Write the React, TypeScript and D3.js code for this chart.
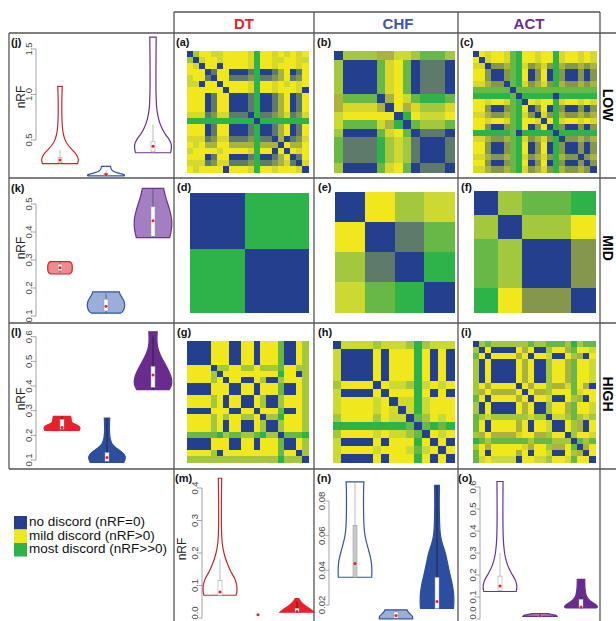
import React from 'react';
import * as d3 from 'd3';

// ---------- DATA ----------
const LEVEL_COLORS = ['#253f8f', '#5d7a6a', '#84974c', '#aab340', '#d8d82c', '#f0e81c', '#cbd932', '#a3c83d', '#68b847', '#2db34a'];
const LEGEND_LABELS = ['no discord (nRF=0)', 'mild discord (nRF>0)', 'most discord (nRF>>0)'];
const LEGEND_LEVELS = [0, 5, 9];
const METHODS = ['DT', 'CHF', 'ACT'];
const LEVELS = ['LOW', 'MID', 'HIGH'];

const MAT_A = [
  '07556 65555 49554 56545', '70655 65555 49554 65546', '56055 05555 49554 55545', '55501 55000 19001 35015',
  '65510 55111 29112 35125', '66055 05555 49554 56545', '55555 50555 49554 55540', '55501 55000 19001 35015',
  '55501 55000 19001 35015', '55501 55000 19001 35015', '44412 44111 09112 34124', '99999 99999 90999 99999',
  '55501 55000 19001 35015', '55501 55000 19001 35015', '44412 44111 29110 30124', '56533 55333 39333 05335',
  '65555 65555 49550 50545', '55501 55000 19001 35015', '44412 44111 29112 34104', '56555 50555 49554 55540',
];
const MAT_B = [
  '07777 33667 8887', '70000 84580 1110', '70000 84580 1110', '70000 84580 1110', '70000 84580 1110',
  '38888 03568 9998', '34444 30534 7774', '65555 55095 6665', '68888 63908 7778', '70000 84580 1110',
  '81111 97671 0001', '81111 97671 0001', '81111 97671 0001', '70000 84580 1110',
];
const MAT_C = [
  '05455 48955 45594 55454', '50455 48955 45594 55454', '44022 38942 34293 22323', '55200 28950 25092 00202',
  '55200 28950 25092 00202', '44322 08942 34293 22323', '88888 80888 88888 88888', '99999 98099 99909 99999',
  '55455 48905 45594 55454', '55200 28950 25092 00202', '44322 38942 04293 22323', '55455 48955 40594 55454',
  '55200 28950 25092 00202', '99999 98099 99909 99999', '44322 38942 34290 22323', '55200 28950 25092 00202',
  '55200 28950 25092 00202', '44322 38942 34293 22023', '55200 28950 25092 00202', '44322 38942 34293 22320',
];
const MAT_D = [
  '00000 00999 99999', '00000 00999 99999', '00000 00999 99999', '00000 00999 99999', '00000 00999 99999',
  '00000 00999 99999', '00000 00999 99999', '99999 99000 00000', '99999 99000 00000', '99999 99000 00000',
  '99999 99000 00000', '99999 99000 00000', '99999 99000 00000', '99999 99000 00000', '99999 99000 00000',
];
const MAT_E = ['0576', '5018', '7109', '6890'];
const MAT_F = ['07889', '70775', '87002', '87002', '95220'];
const MAT_G = [
  '00005 55005 50555 80057', '00005 55005 50555 80057', '00005 55005 50555 80057', '00005 55005 50555 80057',
  '55550 77557 75777 85577', '55557 05555 55555 95507', '55557 50550 05700 75557', '00005 55005 50555 80057',
  '00005 55005 50555 80057', '55557 50550 05700 75557', '55557 50550 05700 75557', '00005 55005 50555 80057',
  '55557 57557 75077 95557', '55557 50550 05700 75557', '55557 50550 05700 75557', '88888 97887 78977 08889',
  '00005 55005 50555 80057', '00005 55005 50555 80057', '55557 05555 55555 85507', '77777 77777 77777 97770',
];
const MAT_H = [
  '06666 76667 97666', '60000 50555 95050', '60000 50555 95050', '60000 50555 95050', '60000 50555 95050',
  '75555 05667 96565', '60000 50555 95050', '65555 65046 96555', '65555 65406 96555', '75555 75660 87565',
  '99999 99998 08989', '75555 65667 80565', '60000 50555 95050', '65555 65556 86505', '60000 50555 95050',
];
const MAT_I = [
  '07877 77778 77888 79788', '70500 00535 00755 38556', '85055 55350 55600 57305', '70500 00535 00755 38556',
  '70500 00535 00755 38556', '70500 00535 00755 38556', '70500 00535 00755 38556', '75355 55053 55733 48530',
  '73533 33505 33755 58455', '85055 55350 55600 57305', '70500 00535 00755 38556', '70500 00535 00755 38556',
  '87677 77776 77066 78767', '85055 55350 55600 57305', '85055 55350 55600 57305', '73533 33455 33755 07554',
  '98788 88887 88877 70878', '75355 55543 55733 58035', '85055 55350 55600 57305', '86566 66055 66755 48550',
];

// violin profiles: [value, relative density]; boxes: [whiskerLow, q1, median, q3, whiskerHigh]
const TICKS_J = [0.5, 1.0, 1.5];
const VIOLIN_J_DT = [[0.24, 0.92], [0.27, 0.98], [0.31, 0.95], [0.36, 0.8], [0.41, 0.55], [0.46, 0.36], [0.52, 0.22], [0.6, 0.14], [0.7, 0.1], [0.85, 0.09], [1.0, 0.1], [1.09, 0.12]];
const BOX_J_DT = [0.24, 0.25, 0.28, 0.31, 0.39];
const VIOLIN_J_CHF = [[0.105, 0.95], [0.115, 1.0], [0.125, 0.9], [0.14, 0.55], [0.16, 0.32], [0.19, 0.25], [0.21, 0.24]];
const BOX_J_CHF = [0.105, 0.11, 0.12, 0.135, 0.16];
const VIOLIN_J_ACT = [[0.36, 0.92], [0.4, 0.97], [0.45, 0.98], [0.5, 0.88], [0.56, 0.65], [0.63, 0.45], [0.72, 0.3], [0.82, 0.2], [0.95, 0.16], [1.2, 0.15], [1.45, 0.16], [1.63, 0.17]];
const BOX_J_ACT = [0.36, 0.37, 0.43, 0.48, 0.67];

const TICKS_K = [0.1, 0.2, 0.3, 0.4, 0.5];
const VIOLIN_K_DT = [[0.25, 0.5], [0.254, 0.6], [0.26, 0.64], [0.272, 0.65], [0.284, 0.64], [0.29, 0.6], [0.294, 0.5]];
const BOX_K_DT = [0.255, 0.262, 0.272, 0.285, 0.29];
const VIOLIN_K_CHF = [[0.11, 0.75], [0.115, 0.88], [0.125, 0.96], [0.14, 1.0], [0.155, 0.95], [0.17, 0.8], [0.18, 0.72], [0.186, 0.7]];
const BOX_K_CHF = [0.11, 0.118, 0.135, 0.16, 0.18];
const VIOLIN_K_ACT = [[0.38, 0.88], [0.4, 0.95], [0.42, 0.99], [0.44, 1.0], [0.47, 0.92], [0.5, 0.78], [0.53, 0.64], [0.556, 0.56]];
const BOX_K_ACT = [0.38, 0.385, 0.44, 0.49, 0.556];

const TICKS_L = [0.1, 0.2, 0.3, 0.4, 0.5, 0.6];
const VIOLIN_L_DT = [[0.22, 0.9], [0.228, 0.96], [0.236, 0.93], [0.244, 0.72], [0.25, 0.52], [0.26, 0.48], [0.27, 0.48], [0.277, 0.45]];
const BOX_L_DT = [0.22, 0.225, 0.232, 0.265, 0.277];
const VIOLIN_L_CHF = [[0.09, 0.88], [0.105, 0.98], [0.12, 0.95], [0.135, 0.75], [0.15, 0.45], [0.165, 0.24], [0.19, 0.14], [0.23, 0.12], [0.27, 0.14]];
const BOX_L_CHF = [0.09, 0.095, 0.11, 0.13, 0.27];
const VIOLIN_L_ACT = [[0.385, 0.85], [0.4, 0.97], [0.42, 1.0], [0.44, 0.95], [0.47, 0.78], [0.5, 0.55], [0.53, 0.35], [0.56, 0.22], [0.59, 0.2], [0.62, 0.22]];
const BOX_L_ACT = [0.385, 0.395, 0.445, 0.48, 0.6];

const TICKS_M = [0.0, 0.1, 0.2, 0.3, 0.4];
const VIOLIN_M_LOW = [[0.07, 0.95], [0.08, 1.0], [0.1, 1.0], [0.12, 0.9], [0.14, 0.65], [0.17, 0.4], [0.2, 0.22], [0.23, 0.12], [0.27, 0.08], [0.33, 0.08], [0.4, 0.09], [0.43, 0.1]];
const BOX_M_LOW = [0.07, 0.07, 0.08, 0.115, 0.18];
const VIOLIN_M_MID: number[][] = [];
const BOX_M_MID = [0.01, 0.01, 0.01, 0.01, 0.01];
const VIOLIN_M_HIGH = [[0.018, 1.0], [0.025, 0.85], [0.035, 0.55], [0.045, 0.3], [0.055, 0.15], [0.06, 0.1]];
const BOX_M_HIGH = [0.018, 0.018, 0.02, 0.03, 0.05];

const TICKS_N = [0.02, 0.04, 0.06, 0.08];
const VIOLIN_N_LOW = [[0.036, 0.98], [0.04, 1.0], [0.045, 0.97], [0.05, 0.85], [0.055, 0.7], [0.06, 0.58], [0.065, 0.52], [0.075, 0.5], [0.085, 0.5], [0.091, 0.52]];
const BOX_N_LOW = [0.036, 0.036, 0.044, 0.066, 0.091];
const VIOLIN_N_MID = [[0.012, 0.98], [0.0135, 1.0], [0.015, 0.8], [0.0165, 0.68], [0.0172, 0.65]];
const BOX_N_MID = [0.012, 0.0125, 0.014, 0.016, 0.017];
const VIOLIN_N_HIGH = [[0.018, 0.97], [0.022, 1.0], [0.027, 0.98], [0.032, 0.9], [0.038, 0.75], [0.045, 0.6], [0.05, 0.5], [0.055, 0.32], [0.06, 0.18], [0.07, 0.14], [0.08, 0.13], [0.089, 0.14]];
const BOX_N_HIGH = [0.018, 0.018, 0.022, 0.036, 0.089];

const TICKS_O = [0.0, 0.1, 0.2, 0.3, 0.4, 0.5, 0.6];
const VIOLIN_O_LOW = [[0.125, 0.95], [0.14, 1.0], [0.16, 0.98], [0.18, 0.9], [0.21, 0.65], [0.25, 0.4], [0.3, 0.25], [0.37, 0.18], [0.45, 0.17], [0.55, 0.17], [0.625, 0.18]];
const BOX_O_LOW = [0.125, 0.13, 0.15, 0.195, 0.3];
const VIOLIN_O_MID = [[0.012, 1.0], [0.018, 0.95], [0.022, 0.6], [0.025, 0.4]];
const BOX_O_MID = [0.012, 0.013, 0.015, 0.018, 0.02];
const VIOLIN_O_HIGH = [[0.05, 0.9], [0.055, 1.0], [0.065, 0.9], [0.08, 0.55], [0.1, 0.3], [0.13, 0.24], [0.16, 0.22], [0.18, 0.22]];
const BOX_O_HIGH = [0.05, 0.052, 0.055, 0.09, 0.1];

// ---------- STYLE / LAYOUT ----------
const FONT = "'Liberation Sans', Arial, sans-serif";
const COLORS: Record<string, { line: string; light: string; solid: string; head: string }> = {
  DT: { line: '#c6282e', light: '#f28b8f', solid: '#e8202a', head: '#e31f26' },
  CHF: { line: '#3652a3', light: '#9badd9', solid: '#2d4d9e', head: '#3b57a6' },
  ACT: { line: '#6a3191', light: '#a37fc1', solid: '#682c8e', head: '#6b2d90' },
};
const GRID = '#555';

const HEATMAPS = [
  { label: '(a)', rows: MAT_A, x: 187, y: 51, w: 121, h: 121, lx: 176, ly: 46 },
  { label: '(b)', rows: MAT_B, x: 334, y: 51, w: 120, h: 121, lx: 317, ly: 46 },
  { label: '(c)', rows: MAT_C, x: 473, y: 51, w: 123, h: 121, lx: 460, ly: 46 },
  { label: '(d)', rows: MAT_D, x: 190, y: 193, w: 118, h: 119, lx: 177, ly: 191 },
  { label: '(e)', rows: MAT_E, x: 335, y: 192, w: 119, h: 120, lx: 318, ly: 191 },
  { label: '(f)', rows: MAT_F, x: 474, y: 191, w: 121, h: 121, lx: 461, ly: 191 },
  { label: '(g)', rows: MAT_G, x: 187, y: 341, w: 121, h: 121, lx: 177, ly: 336 },
  { label: '(h)', rows: MAT_H, x: 333, y: 341, w: 121, h: 121, lx: 318, ly: 336 },
  { label: '(i)', rows: MAT_I, x: 473, y: 341, w: 122, h: 121, lx: 461, ly: 336 },
];

type VSpec = { cx: number; profile: number[][]; box: number[]; method: string; kind: 'outline' | 'light' | 'solid' };
type PSpec = {
  label: string; lx: number; ly: number; ticks: number[]; fmt: string;
  d0: number; d1: number; r0: number; r1: number; axisX: number; half: number;
  nrf?: [number, number]; violins: VSpec[];
};

const PANELS: PSpec[] = [
  {
    label: '(j)', lx: 11, ly: 46, ticks: TICKS_J, fmt: '.1f', d0: 0.5, d1: 1.5, r0: 140, r1: 49, axisX: 36, half: 19, nrf: [25, 97],
    violins: [
      { cx: 60, profile: VIOLIN_J_DT, box: BOX_J_DT, method: 'DT', kind: 'outline' },
      { cx: 106, profile: VIOLIN_J_CHF, box: BOX_J_CHF, method: 'CHF', kind: 'outline' },
      { cx: 153, profile: VIOLIN_J_ACT, box: BOX_J_ACT, method: 'ACT', kind: 'outline' },
    ],
  },
  {
    label: '(k)', lx: 11, ly: 192, ticks: TICKS_K, fmt: '.1f', d0: 0.1, d1: 0.5, r0: 316, r1: 204, axisX: 36, half: 19, nrf: [25, 248],
    violins: [
      { cx: 60, profile: VIOLIN_K_DT, box: BOX_K_DT, method: 'DT', kind: 'light' },
      { cx: 106, profile: VIOLIN_K_CHF, box: BOX_K_CHF, method: 'CHF', kind: 'light' },
      { cx: 153, profile: VIOLIN_K_ACT, box: BOX_K_ACT, method: 'ACT', kind: 'light' },
    ],
  },
  {
    label: '(l)', lx: 11, ly: 336, ticks: TICKS_L, fmt: '.1f', d0: 0.1, d1: 0.6, r0: 460, r1: 336.7, axisX: 36, half: 19, nrf: [25, 399],
    violins: [
      { cx: 62, profile: VIOLIN_L_DT, box: BOX_L_DT, method: 'DT', kind: 'solid' },
      { cx: 107, profile: VIOLIN_L_CHF, box: BOX_L_CHF, method: 'CHF', kind: 'solid' },
      { cx: 153, profile: VIOLIN_L_ACT, box: BOX_L_ACT, method: 'ACT', kind: 'solid' },
    ],
  },
  {
    label: '(m)', lx: 175, ly: 482, ticks: TICKS_M, fmt: '.1f', d0: 0, d1: 0.4, r0: 618, r1: 488, axisX: 202, half: 17, nrf: [186, 549],
    violins: [
      { cx: 220, profile: VIOLIN_M_LOW, box: BOX_M_LOW, method: 'DT', kind: 'outline' },
      { cx: 258, profile: VIOLIN_M_MID, box: BOX_M_MID, method: 'DT', kind: 'light' },
      { cx: 297, profile: VIOLIN_M_HIGH, box: BOX_M_HIGH, method: 'DT', kind: 'solid' },
    ],
  },
  {
    label: '(n)', lx: 317, ly: 482, ticks: TICKS_N, fmt: '.2f', d0: 0.02, d1: 0.08, r0: 605, r1: 501, axisX: 329, half: 17,
    violins: [
      { cx: 355, profile: VIOLIN_N_LOW, box: BOX_N_LOW, method: 'CHF', kind: 'outline' },
      { cx: 396, profile: VIOLIN_N_MID, box: BOX_N_MID, method: 'CHF', kind: 'light' },
      { cx: 437, profile: VIOLIN_N_HIGH, box: BOX_N_HIGH, method: 'CHF', kind: 'solid' },
    ],
  },
  {
    label: '(o)', lx: 458, ly: 482, ticks: TICKS_O, fmt: '.1f', d0: 0, d1: 0.6, r0: 619, r1: 487, axisX: 480, half: 17,
    violins: [
      { cx: 500, profile: VIOLIN_O_LOW, box: BOX_O_LOW, method: 'ACT', kind: 'outline' },
      { cx: 540, profile: VIOLIN_O_MID, box: BOX_O_MID, method: 'ACT', kind: 'light' },
      { cx: 581, profile: VIOLIN_O_HIGH, box: BOX_O_HIGH, method: 'ACT', kind: 'solid' },
    ],
  },
];

const levelColor = d3.scaleLinear<string>().domain(d3.range(LEVEL_COLORS.length)).range(LEVEL_COLORS);

function Heatmap({ rows, x, y, w, h }: { rows: string[]; x: number; y: number; w: number; h: number }) {
  const m = rows.map((r) => r.replace(/\s/g, '').split('').map(Number));
  const n = m.length;
  const xs = d3.scaleBand<number>().domain(d3.range(n)).range([x, x + w]);
  const ys = d3.scaleBand<number>().domain(d3.range(n)).range([y, y + h]);
  return (
    <g shapeRendering="crispEdges">
      {m.map((row, i) =>
        row.map((v, j) => (
          <rect key={`${i}-${j}`} x={xs(j)} y={ys(i)} width={xs.bandwidth() + 0.6} height={ys.bandwidth() + 0.6} fill={levelColor(v)} />
        ))
      )}
    </g>
  );
}

function ViolinPanel({ p }: { p: PSpec }) {
  const ys = d3.scaleLinear().domain([p.d0, p.d1]).range([p.r0, p.r1]);
  const fmt = d3.format(p.fmt);
  return (
    <g>
      <line x1={p.axisX} x2={p.axisX} y1={ys(p.ticks[0])} y2={ys(p.ticks[p.ticks.length - 1])} stroke="#999" strokeWidth={0.9} />
      {p.ticks.map((t) => (
        <g key={t}>
          <line x1={p.axisX - 3.5} x2={p.axisX} y1={ys(t)} y2={ys(t)} stroke="#999" strokeWidth={0.9} />
          <text transform={`translate(${p.axisX - 4.5},${Math.min(ys(t), 613)}) rotate(-90)`} textAnchor="middle" fontSize={9.5} fill="#444" fontFamily={FONT}>
            {fmt(t)}
          </text>
        </g>
      ))}
      {p.nrf && (
        <text transform={`translate(${p.nrf[0]},${p.nrf[1]}) rotate(-90)`} textAnchor="middle" fontSize={12} fill="#222" fontFamily={FONT}>
          nRF
        </text>
      )}
      {p.violins.map((v, k) => {
        const c = COLORS[v.method];
        const area = d3
          .area<number[]>()
          .y((d) => ys(d[0]))
          .x0((d) => v.cx - d[1] * p.half)
          .x1((d) => v.cx + d[1] * p.half)
          .curve(d3.curveBasis);
        const fill = v.kind === 'outline' ? '#fff' : v.kind === 'light' ? c.light : c.solid;
        const stroke = v.kind === 'solid' ? c.solid : c.line;
        const [wl, q1, med, q3, wh] = v.box;
        const whiskerColor = v.kind === 'solid' ? '#222' : v.kind === 'light' ? '#555' : '#aaa';
        const boxFill = v.kind === 'outline' && v.method === 'CHF' ? '#c8c8c8' : '#fff';
        return (
          <g key={k}>
            {v.profile.length > 0 && <path d={area(v.profile) || ''} fill={fill} stroke={stroke} strokeWidth={1.2} />}
            {v.profile.length > 0 && <line x1={v.cx} x2={v.cx} y1={ys(wl)} y2={ys(wh)} stroke={whiskerColor} strokeWidth={0.8} />}
            {v.profile.length > 0 && (
              <rect x={v.cx - 2} y={ys(q3)} width={4} height={Math.max(0.8, ys(q1) - ys(q3))} fill={boxFill} stroke="#999" strokeWidth={0.5} />
            )}
            <circle cx={v.cx} cy={ys(med)} r={1.5} fill="#e8202a" />
          </g>
        );
      })}
      <text x={p.lx} y={p.ly} fontSize={11} fontWeight="bold" fill="#111" fontFamily={FONT}>
        {p.label}
      </text>
    </g>
  );
}

export default function App() {
  const headX = [244, 398, 529];
  const levelY = [105, 248, 394];
  return (
    <svg width={616} height={621} style={{ position: 'absolute', left: 0, top: 0, background: '#fff' }}>
      <rect x={0} y={0} width={616} height={621} fill="#fff" />
      {HEATMAPS.map((h) => (
        <g key={h.label}>
          <Heatmap rows={h.rows} x={h.x} y={h.y} w={h.w} h={h.h} />
          <text x={h.lx} y={h.ly} fontSize={11} fontWeight="bold" fill="#111" fontFamily={FONT}>
            {h.label}
          </text>
        </g>
      ))}
      {PANELS.map((p) => (
        <ViolinPanel key={p.label} p={p} />
      ))}
      {/* grid */}
      <g stroke={GRID} strokeWidth={1.3} fill="none">
        <line x1={174} x2={600} y1={12} y2={12} />
        {[33, 178, 323, 469].map((y) => (
          <line key={y} x1={9} x2={616} y1={y} y2={y} />
        ))}
        <line x1={9} x2={9} y1={33} y2={469} />
        {[174, 314, 458, 600].map((x) => (
          <line key={x} x1={x} x2={x} y1={12} y2={621} />
        ))}
      </g>
      {METHODS.map((m, i) => (
        <text key={m} x={headX[i]} y={29} textAnchor="middle" fontSize={15} fontWeight="bold" fill={COLORS[m].head} fontFamily={FONT}>
          {m}
        </text>
      ))}
      {LEVELS.map((l, i) => (
        <text key={l} transform={`translate(603,${levelY[i]}) rotate(90)`} textAnchor="middle" fontSize={14} fontWeight="bold" fill="#000" fontFamily={FONT}>
          {l}
        </text>
      ))}
      {LEGEND_LABELS.map((t, i) => (
        <g key={t}>
          <rect x={14} y={516 + i * 13.5} width={13} height={13.5} fill={levelColor(LEGEND_LEVELS[i])} />
          <text x={29} y={526 + i * 13.7} fontSize={13.5} fill="#111" fontFamily={FONT}>
            {t}
          </text>
        </g>
      ))}
    </svg>
  );
}
